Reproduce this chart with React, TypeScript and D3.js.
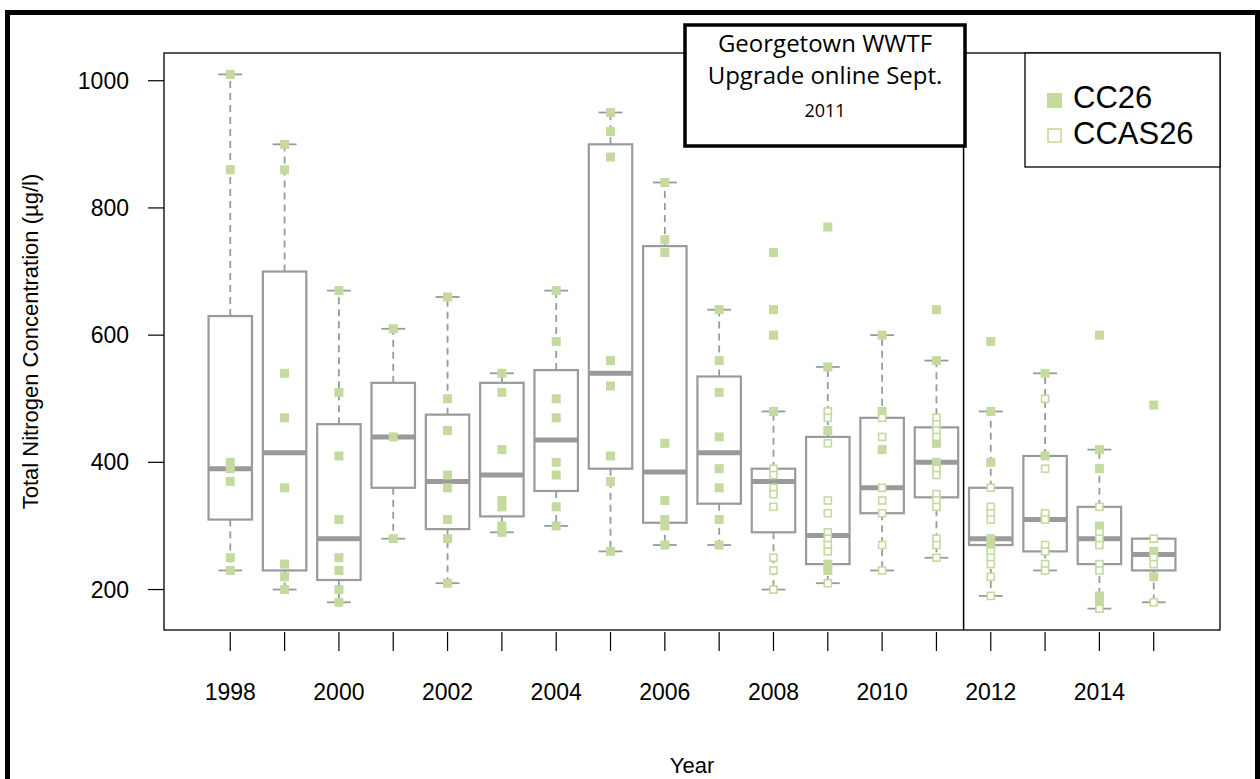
import React from 'react';
import * as d3 from 'd3';

const years = [1998, 1999, 2000, 2001, 2002, 2003, 2004, 2005, 2006, 2007, 2008, 2009, 2010, 2011, 2012, 2013, 2014, 2015];
const whiskerLow = [230, 200, 180, 280, 210, 290, 300, 260, 270, 270, 200, 210, 230, 250, 190, 230, 170, 180];
const q1 = [310, 230, 215, 360, 295, 315, 355, 390, 305, 335, 290, 240, 320, 345, 270, 260, 240, 230];
const median = [390, 415, 280, 440, 370, 380, 435, 540, 385, 415, 370, 285, 360, 400, 280, 310, 280, 255];
const q3 = [630, 700, 460, 525, 475, 525, 545, 900, 740, 535, 390, 440, 470, 455, 360, 410, 330, 280];
const whiskerHigh = [1010, 900, 670, 610, 660, 540, 670, 950, 840, 640, 480, 550, 600, 560, 480, 540, 420, 280];

const cc26 = [
  [1010, 860, 400, 390, 370, 250, 230],
  [900, 860, 540, 470, 360, 240, 220, 200],
  [670, 510, 410, 310, 250, 230, 200, 180],
  [610, 440, 280],
  [660, 500, 450, 380, 360, 310, 280, 210],
  [540, 510, 420, 340, 330, 300, 290],
  [670, 590, 500, 470, 400, 380, 330, 300],
  [950, 920, 880, 560, 520, 410, 370, 260],
  [840, 750, 730, 430, 340, 310, 300, 270],
  [640, 560, 510, 440, 390, 360, 310, 270],
  [730, 640, 600, 480],
  [770, 550, 450, 240, 230],
  [600, 480, 420],
  [640, 560, 430, 400],
  [590, 480, 400, 280, 270],
  [540, 410, 315],
  [600, 420, 390, 300, 190, 180],
  [490, 260, 220],
];

const ccas26 = [
  [], [], [], [], [], [], [], [], [], [],
  [390, 380, 360, 350, 330, 250, 230, 200],
  [480, 470, 430, 340, 320, 290, 280, 270, 260, 210],
  [470, 440, 360, 340, 320, 270, 230],
  [470, 460, 450, 440, 390, 380, 350, 340, 330, 280, 270, 250],
  [360, 330, 320, 310, 260, 250, 240, 220, 190],
  [500, 390, 320, 310, 270, 260, 240, 230],
  [330, 290, 280, 270, 240, 230, 170],
  [280, 250, 240, 180],
];

const yTicks = [200, 400, 600, 800, 1000];
const xTickLabels = [1998, 2000, 2002, 2004, 2006, 2008, 2010, 2012, 2014];
const seriesNames = ['CC26', 'CCAS26'];
const annotationLines = ['Georgetown WWTF', 'Upgrade online Sept.', '2011'];

const GREEN = '#c4da9e';
const GRAY = '#9a9a9a';
const ARIAL = '"Liberation Sans", Arial, Helvetica, sans-serif';

export default function App() {
  const W = 1260, H = 779;
  const left = 164, right = 1220, top = 53, bottom = 630;
  const n = years.length;
  const x = d3.scaleLinear().domain([-0.22, n + 1.22]).range([left, right]);
  const y = d3.scaleLinear().domain([136.4, 1043.6]).range([bottom, top]);
  const unit = x(1) - x(0);
  const bw = unit * 0.8;
  const cap = unit * 0.22;
  const pos = (i: number) => x(i + 1);

  return (
    <svg width={W} height={H} style={{ position: 'absolute', left: 0, top: 0, display: 'block', background: '#fff' }}>
      <rect x={0} y={0} width={W} height={H} fill="#fff" />
      {/* outer frame */}
      <rect x={7.5} y={12.5} width={1250} height={820} fill="none" stroke="#000" strokeWidth={5} />

      {/* boxes */}
      {years.map((yr, i) => {
        const cx = pos(i);
        return (
          <g key={yr}>
            {whiskerHigh[i] > q3[i] && (
              <line x1={cx} x2={cx} y1={y(q3[i])} y2={y(whiskerHigh[i])} stroke={GRAY} strokeWidth={1.8} strokeDasharray="7,5" />
            )}
            {whiskerLow[i] < q1[i] && (
              <line x1={cx} x2={cx} y1={y(q1[i])} y2={y(whiskerLow[i])} stroke={GRAY} strokeWidth={1.8} strokeDasharray="7,5" />
            )}
            <line x1={cx - cap} x2={cx + cap} y1={y(whiskerHigh[i])} y2={y(whiskerHigh[i])} stroke={GRAY} strokeWidth={1.8} />
            <line x1={cx - cap} x2={cx + cap} y1={y(whiskerLow[i])} y2={y(whiskerLow[i])} stroke={GRAY} strokeWidth={1.8} />
            <rect x={cx - bw / 2} y={y(q3[i])} width={bw} height={y(q1[i]) - y(q3[i])} fill="#fff" stroke={GRAY} strokeWidth={2.2} />
            <line x1={cx - bw / 2} x2={cx + bw / 2} y1={y(median[i])} y2={y(median[i])} stroke={GRAY} strokeWidth={5} />
          </g>
        );
      })}

      {/* points */}
      {years.map((yr, i) => (
        <g key={'p' + yr}>
          {cc26[i].map((v, j) => (
            <rect key={'a' + j} x={pos(i) - 4.5} y={y(v) - 4.5} width={9} height={9} fill={GREEN} />
          ))}
          {ccas26[i].map((v, j) => (
            <rect key={'b' + j} x={pos(i) - 3.5} y={y(v) - 3.5} width={7} height={7} fill="#fff" stroke={GREEN} strokeWidth={1.6} />
          ))}
        </g>
      ))}

      {/* divider */}
      <line x1={x(n - 3.5)} x2={x(n - 3.5)} y1={top} y2={bottom} stroke="#000" strokeWidth={1.5} />

      {/* plot frame */}
      <rect x={left} y={top} width={right - left} height={bottom - top} fill="none" stroke="#000" strokeWidth={1.3} />

      {/* y axis */}
      {yTicks.map((t) => (
        <g key={'y' + t}>
          <line x1={left - 16} x2={left} y1={y(t)} y2={y(t)} stroke="#000" strokeWidth={1.2} />
          <text x={129} y={y(t)} dy="0.35em" textAnchor="end" fontFamily={ARIAL} fontSize={23} fill="#000">{t}</text>
        </g>
      ))}
      <text transform={`translate(38,${(top + bottom) / 2}) rotate(-90)`} textAnchor="middle" fontFamily={ARIAL} fontSize={22} fill="#000">
        Total Nitrogen Concentration (µg/l)
      </text>

      {/* x axis */}
      {years.map((yr, i) => (
        <line key={'xt' + yr} x1={pos(i)} x2={pos(i)} y1={bottom + 2} y2={bottom + 21} stroke="#000" strokeWidth={1.2} />
      ))}
      {xTickLabels.map((lab) => (
        <text key={'xl' + lab} x={pos(years.indexOf(lab))} y={700} textAnchor="middle" fontFamily={ARIAL} fontSize={23} fill="#000">{lab}</text>
      ))}
      <text x={(left + right) / 2} y={773} textAnchor="middle" fontFamily={ARIAL} fontSize={22} fill="#000">Year</text>

      {/* annotation */}
      <rect x={685} y={25} width={280} height={121} fill="#fff" stroke="#000" strokeWidth={3.5} />
      <text x={825} y={52} textAnchor="middle" fontFamily='"Open Sans", sans-serif' fontSize={24} fill="#000">{annotationLines[0]}</text>
      <text x={825} y={84} textAnchor="middle" fontFamily='"Open Sans", sans-serif' fontSize={24} fill="#000">{annotationLines[1]}</text>
      <text x={825} y={117} textAnchor="middle" fontFamily='"Open Sans", sans-serif' fontSize={18} fill="#000">{annotationLines[2]}</text>

      {/* legend */}
      <rect x={1025} y={53} width={right - 1025} height={114} fill="#fff" stroke="#000" strokeWidth={1.3} />
      <rect x={1047} y={93} width={15} height={15} fill={GREEN} />
      <rect x={1048} y={129} width={13} height={13} fill="#fff" stroke={GREEN} strokeWidth={1.6} />
      <text x={1073} y={108} fontFamily={ARIAL} fontSize={31} fill="#000">{seriesNames[0]}</text>
      <text x={1073} y={144} fontFamily={ARIAL} fontSize={31} fill="#000">{seriesNames[1]}</text>
    </svg>
  );
}
